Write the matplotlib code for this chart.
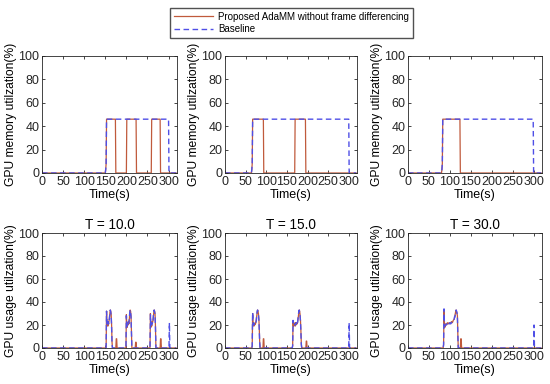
import matplotlib
matplotlib.use("Agg")
import matplotlib.pyplot as plt

plt.rcParams['font.family'] = ['Liberation Sans', 'DejaVu Sans']

titles = ["T = 10.0", "T = 15.0", "T = 30.0"]
xticks = [0, 50, 100, 150, 200, 250, 300]
yticks = [0, 20, 40, 60, 80, 100]

# ---- GPU memory utilization (top row) ----
mem10_prop_t = [0, 150, 151, 152, 153, 174, 175, 200, 201, 223, 224, 259, 260, 280, 281, 318]
mem10_prop_v = [0, 0, 3, 8, 46, 46, 0, 0, 46, 46, 0, 0, 46, 46, 0, 0]
mem10_base_t = [0, 150, 151, 152, 153, 300, 301, 318]
mem10_base_v = [0, 0, 3, 8, 46, 46, 0, 0]

mem15_prop_t = [0, 64, 65, 66, 67, 93, 94, 169, 170, 195, 196, 318]
mem15_prop_v = [0, 0, 3, 8, 46, 46, 0, 0, 46, 46, 0, 0]
mem15_base_t = [0, 64, 65, 66, 67, 300, 301, 318]
mem15_base_v = [0, 0, 3, 8, 46, 46, 0, 0]

mem30_prop_t = [0, 80, 81, 82, 83, 124, 125, 318]
mem30_prop_v = [0, 0, 3, 8, 46, 46, 0, 0]
mem30_base_t = [0, 80, 81, 82, 83, 299, 300, 318]
mem30_base_v = [0, 0, 3, 8, 46, 46, 0, 0]

# ---- GPU usage utilization (bottom row) ----
use10_prop_t = [0, 150, 152, 153, 154, 155, 156, 157, 158, 159, 160, 161, 162, 163, 164, 165, 166, 167,
                175, 176, 177, 178,
                199, 200, 201, 202, 203, 204, 205, 206, 207, 208, 209, 210, 211, 212, 213,
                221, 222, 223, 224,
                256, 257, 258, 259, 260, 261, 262, 263, 264, 265, 266, 267, 268, 269, 270,
                280, 281, 282, 283, 318]
use10_prop_v = [0, 0, 0.5, 32, 20, 23, 19, 22, 21, 24, 26, 31, 33, 32, 29, 20, 5, 0,
                0, 8, 8, 0,
                0, 29, 20, 18, 22, 20, 23, 21, 25, 30, 33, 32, 28, 15, 0,
                0, 5, 5, 0,
                0, 30, 18, 22, 19, 23, 22, 24, 27, 31, 33, 32, 30, 18, 0,
                0, 8, 8, 0, 0]
use10_base_t = [0, 150, 152, 153, 154, 155, 156, 157, 158, 159, 160, 161, 162, 163, 164, 165, 166, 167,
                199, 200, 201, 202, 203, 204, 205, 206, 207, 208, 209, 210, 211, 212, 213,
                256, 257, 258, 259, 260, 261, 262, 263, 264, 265, 266, 267, 268, 269, 270,
                301, 302, 303, 318]
use10_base_v = [0, 0, 0.5, 32, 21, 22, 20, 23, 21, 23, 27, 30, 33, 31, 28, 18, 4, 0,
                0, 28, 21, 19, 21, 20, 22, 22, 26, 31, 33, 31, 27, 14, 0,
                0, 29, 19, 21, 20, 22, 21, 23, 28, 32, 33, 31, 29, 17, 0,
                0, 22, 0, 0]

use15_prop_t = [0, 65, 66, 67, 68, 69, 70, 71, 72, 73, 74, 75, 76, 77, 78, 79, 80, 81, 82, 83, 84, 85,
                92, 93, 94, 95,
                163, 164, 165, 166, 167, 168, 169, 170, 171, 172, 173, 174, 175, 176, 177, 178, 179, 180, 181, 182, 183, 184, 185, 186, 187,
                196, 197, 198, 199, 318]
use15_prop_v = [0, 0, 2, 30, 20, 22, 19, 21, 20, 22, 21, 23, 25, 28, 31, 33, 32, 30, 26, 18, 6, 0,
                0, 8, 8, 0,
                0, 2, 23, 19, 22, 20, 21, 19, 22, 20, 21, 22, 21, 23, 25, 28, 31, 33, 32, 29, 24, 15, 4, 0, 0,
                0, 6, 6, 0, 0]
use15_base_t = [0, 65, 66, 67, 68, 69, 70, 71, 72, 73, 74, 75, 76, 77, 78, 79, 80, 81, 82, 83, 84, 85,
                163, 164, 165, 166, 167, 168, 169, 170, 171, 172, 173, 174, 175, 176, 177, 178, 179, 180, 181, 182, 183, 184, 185, 186, 187,
                300, 301, 302, 318]
use15_base_v = [0, 0, 2, 31, 21, 21, 20, 22, 21, 21, 22, 22, 24, 29, 32, 33, 31, 29, 25, 17, 5, 0,
                0, 2, 24, 20, 21, 21, 20, 20, 21, 21, 22, 20, 22, 22, 26, 29, 32, 33, 31, 28, 23, 14, 3, 0, 0,
                0, 22, 0, 0]

use30_prop_t = [0, 84, 85, 86, 87, 88, 90, 92, 94, 96, 98, 100, 102, 104, 106, 108, 110, 111, 112, 113, 114, 115, 116, 117, 118, 119, 120,
                125, 126, 127, 128, 318]
use30_prop_v = [0, 0, 3, 33, 22, 18, 21, 20, 22, 21, 22, 21, 22, 23, 22, 24, 25, 26, 28, 30, 32, 33, 31, 30, 28, 12, 0,
                0, 8, 8, 0, 0]
use30_base_t = [0, 84, 85, 86, 87, 88, 90, 92, 94, 96, 98, 100, 102, 104, 106, 108, 110, 111, 112, 113, 114, 115, 116, 117, 118, 119, 120,
                300, 301, 302, 318]
use30_base_v = [0, 0, 3, 34, 20, 19, 20, 21, 20, 22, 21, 22, 21, 22, 23, 23, 24, 27, 27, 29, 31, 33, 32, 31, 27, 11, 0,
                0, 20, 0, 0]

mem_data = [(mem10_prop_t, mem10_prop_v, mem10_base_t, mem10_base_v),
            (mem15_prop_t, mem15_prop_v, mem15_base_t, mem15_base_v),
            (mem30_prop_t, mem30_prop_v, mem30_base_t, mem30_base_v)]
use_data = [(use10_prop_t, use10_prop_v, use10_base_t, use10_base_v),
            (use15_prop_t, use15_prop_v, use15_base_t, use15_base_v),
            (use30_prop_t, use30_prop_v, use30_base_t, use30_base_v)]

RED = '#C05A3C'
BLUE = '#4F4FE6'
TICK_FS = 9
LAB_FS = 8.7

fig = plt.figure(figsize=(5.5, 3.84), dpi=100)
W, H = 550.0, 384.0
cols = [(42, 135), (225, 132), (408, 134)]
rows = [(56, 173), (233, 348)]


def style(ax):
    ax.set_xlim(0, 320)
    ax.set_ylim(0, 100)
    ax.set_xticks(xticks)
    ax.set_yticks(yticks)
    ax.tick_params(direction='in', length=2.5, width=0.6, labelsize=TICK_FS, pad=2,
                   top=True, right=True, colors='#262626')
    for s in ax.spines.values():
        s.set_linewidth(0.6)
        s.set_color('#262626')
    ax.set_xlabel('Time(s)', fontsize=LAB_FS + 0.3, labelpad=1)


handles = None
for r, (data, ylab) in enumerate([(mem_data, 'GPU memory utilzation(%)'),
                                  (use_data, 'GPU usage utilzation(%)')]):
    top, bot = rows[r]
    for c, (x0, w) in enumerate(cols):
        ax = fig.add_axes([x0 / W, 1 - bot / H, w / W, (bot - top) / H])
        pt, pv, bt, bv = data[c]
        l1, = ax.plot(pt, pv, color=RED, lw=0.9,
                      label='Proposed AdaMM without frame differencing')
        l2, = ax.plot(bt, bv, color=BLUE, lw=1.0, ls=(0, (4, 2.5)), label='Baseline')
        style(ax)
        ax.set_ylabel(ylab, fontsize=LAB_FS, labelpad=1)
        if r == 1:
            ax.set_title(titles[c], fontsize=9.8, pad=3)
        handles = [l1, l2]

fig.legend(handles=handles, loc='upper center', bbox_to_anchor=(291.5 / W, 1 - 8 / H),
           fontsize=7, frameon=True, fancybox=False, edgecolor='#262626',
           handlelength=4.0, borderpad=0.4, labelspacing=0.25, handletextpad=0.5,
           borderaxespad=0)

fig.savefig('out.png', dpi=100)
